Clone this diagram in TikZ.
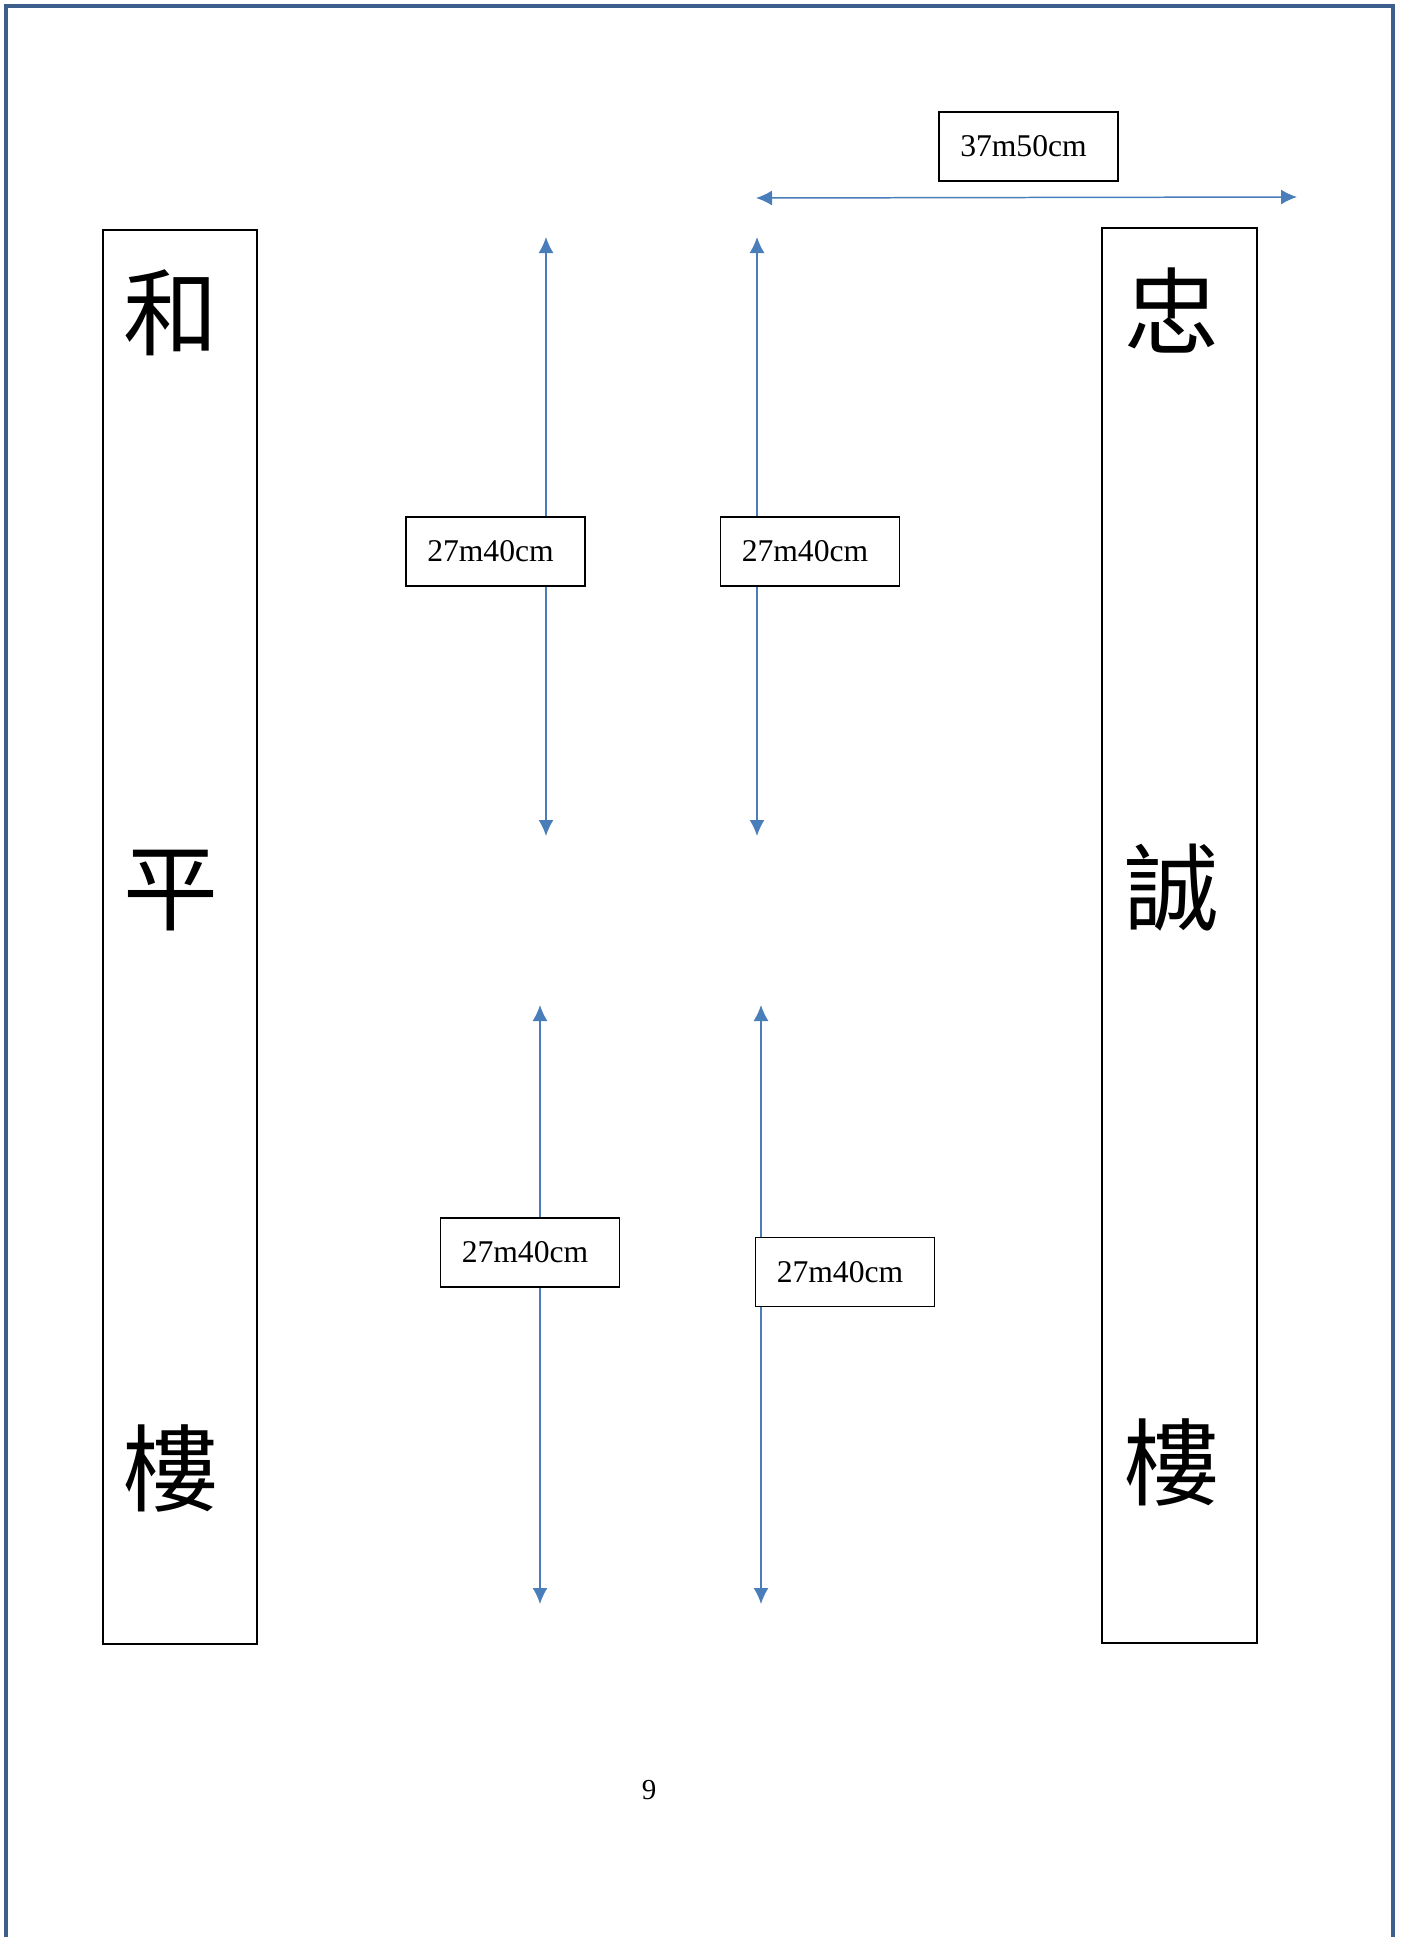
\documentclass[tikz,border=0pt]{standalone}
\usepackage{fontspec}
\setmainfont{Liberation Serif}
\newfontfamily\cjk{Noto Sans CJK TC}
\usetikzlibrary{arrows.meta}
\definecolor{pageblue}{RGB}{60,95,142}
\definecolor{arrowblue}{RGB}{74,126,187}

\begin{document}
\begin{tikzpicture}[
		building/.style={draw, line width=0.75pt, minimum width=3.08cm, inner sep=0pt},
		hanzi/.style={font=\cjk\fontsize{54}{54}\selectfont, inner sep=0pt},
		measure/.style={draw, fill=white, line width=0.75pt, minimum width=3.58cm, minimum height=1.38cm, inner sep=0pt, font=\fontsize{18}{20}\selectfont},
		dimline/.style={arrowblue, line width=0.85pt, {Latex[length=3.2mm,width=3mm]}-{Latex[length=3.2mm,width=3mm]}}]
			%%%%% START %%%%%
			\useasboundingbox (0, 0) rectangle (28.1, -38.74);
			\draw[pageblue, line width=0.09cm] (0.12, -39.5) -- (0.12, -0.12) -- (27.86, -0.12) -- (27.86, -39.5);
			
			\node[building, minimum height=28.28cm] (heping) at (3.6, -18.74) {};
			\node[hanzi] (he) at (3.42, -6.26) {和};
			\node[hanzi] (ping) at (3.42, -17.82) {平};
			\node[hanzi] (lou1) at (3.42, -29.36) {樓};
			
			\node[building, minimum width=3.1cm, minimum height=28.3cm] (zhongcheng) at (23.59, -18.71) {};
			\node[hanzi] (zhong) at (23.44, -6.2) {忠};
			\node[hanzi] (cheng) at (23.44, -17.76) {誠};
			\node[hanzi] (lou2) at (23.44, -29.24) {樓};
			
			\coordinate (w) at (15.12, -3.96);
			\coordinate (e) at (25.94, -3.94);
			\draw[dimline] (w) -- (e);
			\node[measure] (width) at (20.57, -2.93) {37m50cm\hspace*{0.2cm}};
			
			\coordinate (a1t) at (10.92, -4.74);
			\coordinate (a1b) at (10.92, -16.72);
			\draw[dimline] (a1t) -- (a1b);
			\coordinate (a2t) at (15.14, -4.74);
			\coordinate (a2b) at (15.14, -16.72);
			\draw[dimline] (a2t) -- (a2b);
			\node[measure] (len1) at (9.91, -11.03) {27m40cm\hspace*{0.2cm}};
			\node[measure] (len2) at (16.2, -11.03) {27m40cm\hspace*{0.2cm}};
			
			\coordinate (a3t) at (10.8, -20.1);
			\coordinate (a3b) at (10.8, -32.08);
			\draw[dimline] (a3t) -- (a3b);
			\coordinate (a4t) at (15.22, -20.1);
			\coordinate (a4b) at (15.22, -32.08);
			\draw[dimline] (a4t) -- (a4b);
			\node[measure] (len3) at (10.6, -25.05) {27m40cm\hspace*{0.2cm}};
			\node[measure] (len4) at (16.9, -25.44) {27m40cm\hspace*{0.2cm}};
			
			\node[font=\fontsize{16.5}{18}\selectfont] (pagenum) at (12.98, -35.8) {9};
			%%%%% END %%%%%
		\end{tikzpicture}
\end{document}
